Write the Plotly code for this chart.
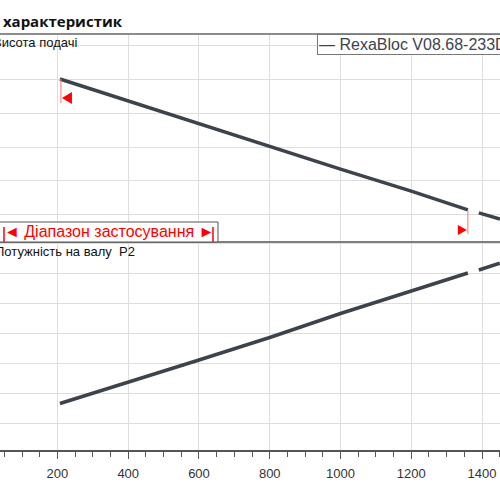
import plotly.subplots
import plotly.graph_objects as pgo

# flow Q (m3/h), head H (m), shaft power P2 (kW)
flow = [207, 400, 600, 800, 1000, 1200, 1360]
head = [12.0, 10.7, 9.4, 8.0, 6.7, 5.4, 4.3]
power = [5.3, 6.7, 8.2, 9.7, 11.3, 12.8, 14.0]

# beyond the application range (dashed)
flow_ext = [1391, 1500]
head_ext = [4.12, 3.45]
power_ext = [14.2, 15.03]

x_ticks = [0, 200, 400, 600, 800, 1000, 1200, 1400]

pump_name = 'RexaBloc V08.68-233D'
title = 'Поле характеристик'
head_label = 'Висота подачі'
power_label = 'Потужність на валу  P2'
range_label = '◄ Діапазон застосування ►'

line_col = '#3d434d'
grid_col = '#dedede'
font_fam = 'Liberation Sans, Arial, sans-serif'

fig = plotly.subplots.make_subplots(rows=2, cols=1, shared_xaxes=True,
                                    vertical_spacing=0)

# head curve
fig.add_trace(pgo.Scatter(x=flow, y=head, mode='lines',
                          line=dict(color=line_col, width=3.5)), row=1, col=1)
fig.add_trace(pgo.Scatter(x=flow_ext, y=head_ext, mode='lines',
                          line=dict(color=line_col, width=3.5, dash='22px,8px')),
              row=1, col=1)

# power curve
fig.add_trace(pgo.Scatter(x=flow, y=power, mode='lines',
                          line=dict(color=line_col, width=3.5)), row=2, col=1)
fig.add_trace(pgo.Scatter(x=flow_ext, y=power_ext, mode='lines',
                          line=dict(color=line_col, width=3.5, dash='22px,8px')),
              row=2, col=1)

x_range = [37.6, 1450.8]
fig.update_xaxes(range=x_range, tickvals=x_ticks, showgrid=True,
                 gridcolor=grid_col, gridwidth=1, zeroline=False)
fig.update_xaxes(showticklabels=False, ticks='', row=1, col=1)
fig.update_xaxes(showticklabels=True, ticks='outside', ticklen=7,
                 tickcolor='#555', showline=True, linecolor='#555',
                 linewidth=1.5, ticklabelstandoff=4,
                 tickfont=dict(size=13, color='#333', family=font_fam),
                 minor=dict(dtick=50, tick0=0, ticks='outside', ticklen=5,
                            tickcolor='#555', showgrid=False),
                 row=2, col=1)

fig.update_yaxes(showticklabels=False, zeroline=False, showgrid=True,
                 gridcolor=grid_col, gridwidth=1, dtick=2, tick0=0)
fig.update_yaxes(range=[2.41, 14.65], domain=[0.516, 0.932], row=1, col=1)
fig.update_yaxes(range=[2.2, 16.07], domain=[0.1, 0.516], row=2, col=1)

shapes = [
    # frame lines
    dict(type='line', xref='paper', yref='paper', x0=0, x1=1, y0=0.932,
         y1=0.932, line=dict(color='#666', width=1.5)),
    dict(type='line', xref='paper', yref='paper', x0=0, x1=1, y0=0.516,
         y1=0.516, line=dict(color='#555', width=1.5)),
    # application range box
    dict(type='rect', xref='paper', yref='paper', x0=-0.01, x1=0.436,
         y0=0.516, y1=0.556, fillcolor='white',
         line=dict(color='#555', width=1)),
    dict(type='line', xref='paper', yref='paper', x0=0.008, x1=0.008,
         y0=0.516, y1=0.546, line=dict(color='red', width=1.5)),
    dict(type='line', xref='paper', yref='paper', x0=0.426, x1=0.426,
         y0=0.516, y1=0.546, line=dict(color='red', width=1.5)),
    # range markers on the head curve
    dict(type='path', xref='x', yref='y', xsizemode='pixel', ysizemode='pixel',
         xanchor=flow[0], yanchor=head[0], path='M 1 0 L 1 -24',
         line=dict(color='#ff7070', width=1)),
    dict(type='path', xref='x', yref='y', xsizemode='pixel', ysizemode='pixel',
         xanchor=flow[0], yanchor=head[0], path='M 12 -13 L 12 -25 L 2 -19 Z',
         fillcolor='red', line=dict(width=0)),
    dict(type='path', xref='x', yref='y', xsizemode='pixel', ysizemode='pixel',
         xanchor=flow[-1], yanchor=head[-1], path='M 0 0 L 0 -24',
         line=dict(color='#ff7070', width=1)),
    dict(type='path', xref='x', yref='y', xsizemode='pixel', ysizemode='pixel',
         xanchor=flow[-1], yanchor=head[-1], path='M -10 -15 L -10 -25 L -1 -20 Z',
         fillcolor='red', line=dict(width=0)),
]

annotations = [
    dict(text='<b>' + title + '</b>', xref='paper', yref='paper', x=0.25,
         y=0.958, xanchor='right', yanchor='middle', showarrow=False,
         font=dict(size=15, color='#111', family='Open Sans, sans-serif')),
    dict(text=head_label, xref='paper', yref='paper', x=0.158, y=0.914,
         xanchor='right', yanchor='middle', showarrow=False,
         font=dict(size=13, color='#111', family=font_fam)),
    dict(text=power_label, xref='paper', yref='paper', x=0.274, y=0.498,
         xanchor='right', yanchor='middle', showarrow=False,
         font=dict(size=13, color='#111', family=font_fam)),
    dict(text=range_label, xref='paper', yref='paper', x=0.217, y=0.536,
         xanchor='center', yanchor='middle', showarrow=False,
         font=dict(size=16, color='red', family=font_fam)),
    dict(text='— ' + pump_name, xref='paper', yref='paper', x=0.634,
         y=0.932, xanchor='left', yanchor='top', showarrow=False,
         bgcolor='white', bordercolor='#777', borderwidth=1, borderpad=1,
         font=dict(size=16, color=line_col, family=font_fam)),
]

fig.update_layout(width=500, height=500, showlegend=False,
                  margin=dict(l=0, r=0, t=0, b=0),
                  plot_bgcolor='white', paper_bgcolor='white',
                  shapes=shapes, annotations=annotations,
                  font=dict(family=font_fam))

# drop the page's default body margin so the figure sits at the corner
fig.write_html("out.html", config={'displayModeBar': False},
               post_script="document.body.style.margin='0';")
